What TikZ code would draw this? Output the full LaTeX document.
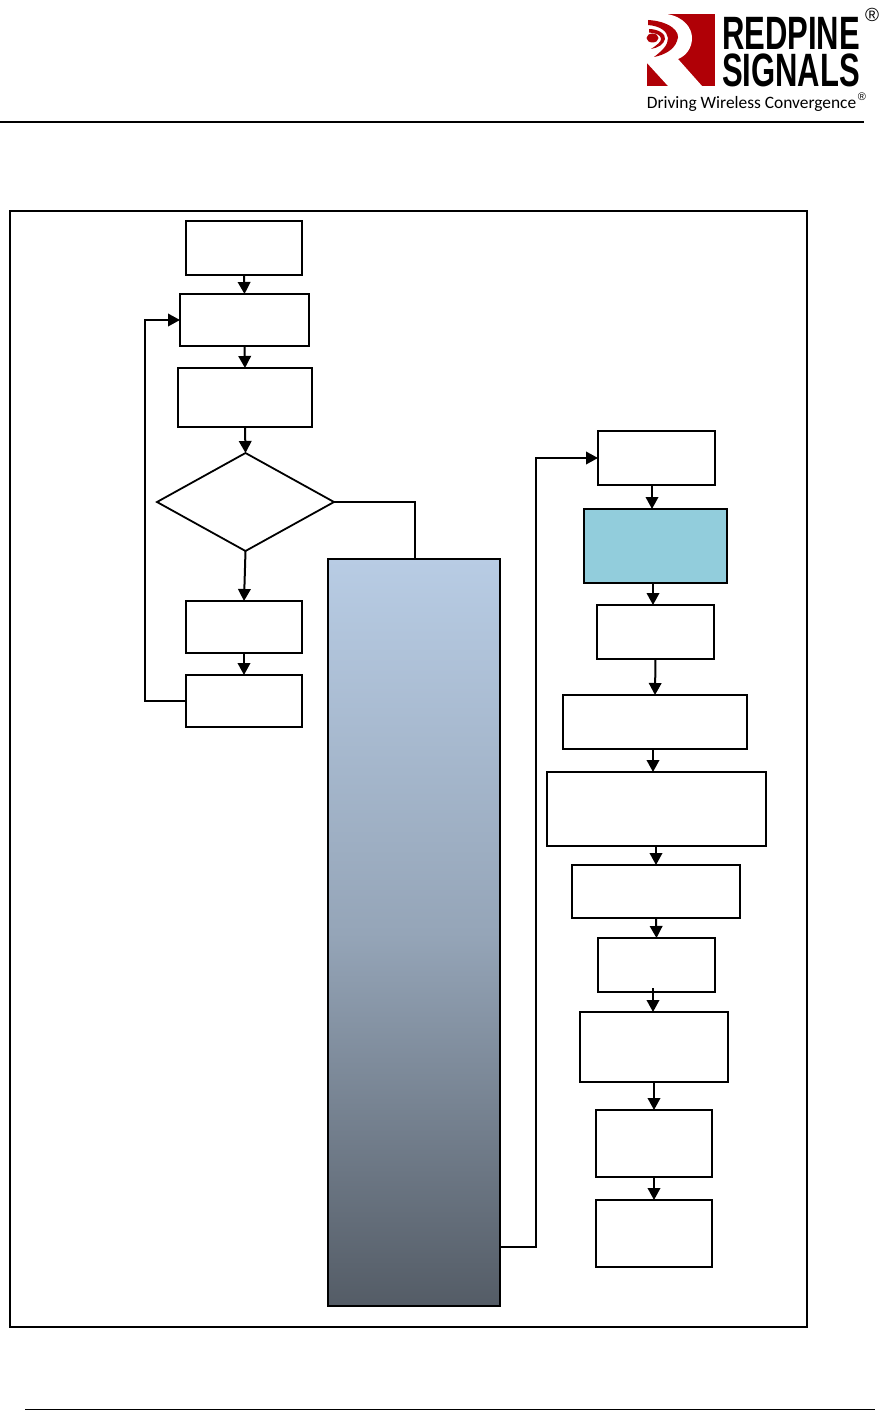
\documentclass[tikz,border=0pt]{standalone}
\usepackage{fontspec}
\setmainfont{Carlito}
\newfontfamily\logofont{Liberation Sans}
\usetikzlibrary{arrows.meta,shapes.geometric,calc}
\definecolor{redpine}{HTML}{B00006}
\definecolor{gradtop}{HTML}{B8CCE4}
\definecolor{gradmid}{HTML}{95A5B8}
\definecolor{gradbot}{HTML}{545C66}
\definecolor{teal}{HTML}{92CDDC}
\tikzset{
  x=1pt,y=-1pt,
  boxn/.style={draw=black,line width=1.8pt,rectangle,inner sep=0pt,outer sep=0pt,fill=white},
  conn/.style={draw=black,line width=2pt},
  arr/.style={conn,-{Triangle[length=12pt,width=12.5pt]}},
  rule/.style={draw=black,line width=2pt},
  logotxt/.style={inner sep=0pt,outer sep=0pt,font=\logofont\bfseries\fontsize{40}{40}\selectfont,anchor=center},
}
\newcommand{\bx}[6][]{\node[boxn,#1,minimum width=#4 pt-#3 pt,minimum height=#6 pt-#5 pt] (#2) at ({(#3+#4)/2},{(#5+#6)/2}) {};}
\begin{document}
\begin{tikzpicture}
\useasboundingbox (0,0) rectangle (880,1410);
\fill[white] (0,0) rectangle (880,1410);
% header / footer rules
\coordinate (hl) at (0,122.5); \coordinate (hr) at (864,122.5);
\draw[rule] (hl) -- (hr);
\coordinate (fl) at (25,1409.5); \coordinate (fr) at (875,1409.5);
\draw[rule] (fl) -- (fr);
% logo
\fill[redpine] (647,14) rectangle (715,86);
\fill[white] (647,14) -- (667,14) .. controls (684,17) and (692,28) .. (692,38) .. controls (692,48) and (686,56) .. (678,59) -- (702,86) -- (668,86) -- (647,63) -- cycle;
\fill[redpine] (648,20) .. controls (668,21) and (682,31) .. (677,41) .. controls (674,50) and (664,55) .. (654,57) .. controls (663,50) and (668,45) .. (668,38) .. controls (667,31) and (660,26) .. (648,25) -- cycle;
\fill[redpine] (649,29) .. controls (658,29) and (666,34) .. (665,39) .. controls (664,44) and (658,48) .. (651,49) .. controls (657,45) and (661,42) .. (661,39) .. controls (661,35) and (656,33) .. (649,32.5) -- cycle;
\fill[redpine] (652.5,38) ellipse (6 and 4.5);
\node[logotxt,xscale=0.775,yscale=1.17] (redp) at (791,33) {REDPINE};
\node[logotxt,xscale=0.775,yscale=1.17] (sigs) at (791,70.5) {SIGNALS};
\node[inner sep=0pt,font=\fontsize{17.4}{18}\selectfont,anchor=center] (tag) at (751.5,104) {Driving Wireless Convergence};
\node[inner sep=0pt,font=\logofont\fontsize{11}{11}\selectfont,anchor=center] (tagr) at (862,97) {®};
\node[inner sep=0pt,font=\logofont\fontsize{19}{19}\selectfont,anchor=center] (logor) at (872,15) {®};
% frame
\node[boxn,fill=none,minimum width=797pt,minimum height=1116pt] (frame) at (408.5,769) {};
% left column
\bx{b1}{186}{302}{221}{275}
\bx{b2}{180}{309}{294}{346}
\bx{b3}{178}{312}{368}{427}
\node[boxn,diamond,minimum width=177pt,minimum height=98pt,shape aspect=1.806] (dec) at (245.5,502) {};
\bx{b4}{186}{302}{601}{653}
\bx{b5}{186}{302}{675}{727}
% gradient block
\node[boxn,draw=black,top color=gradtop,bottom color=gradbot,middle color=gradmid,minimum width=172pt,minimum height=747pt] (big) at (414,932.5) {};
% right column
\bx{r1}{598}{715}{431}{485}
\bx[fill=teal]{r2}{584}{727}{509}{583}
\bx{r3}{597}{714}{605}{659}
\bx{r4}{563}{747}{695}{749}
\bx{r5}{547}{766}{772}{846}
\bx{r6}{572}{740}{865}{918}
\bx{r7}{598}{715}{938}{992}
\bx{r8}{580}{728}{1012}{1082}
\bx{r9}{596}{712}{1110}{1177}
\bx{r10}{596}{712}{1200}{1267}
% connectors
\draw[arr] (b1.south) -- (b2.north);
\draw[arr] (b2.south) -- (b3.north);
\draw[arr] (b3.south) -- (dec.north);
\draw[arr] (dec.south) -- (b4.north);
\draw[arr] (b4.south) -- (b5.north);
\coordinate (lpa) at (144.5,701);
\coordinate (lpb) at (144.5,320);
\draw[arr] (b5.west) -- (lpa) -- (lpb) -- (b2.west);
\coordinate (dtop) at (414.5,502);
\draw[conn] (dec.east) -- (dtop) -- (big.north -| dtop);
\coordinate (rpa) at (536,1246.5);
\coordinate (rpb) at (536,458);
\draw[arr] (big.east |- rpa) -- (rpa) -- (rpb) -- (r1.west);
\draw[arr] ([xshift=-4.5pt]r1.south) -- ([xshift=-3.5pt]r2.north);
\draw[arr] ([xshift=-2.5pt]r2.south) -- ([xshift=-2.5pt]r3.north);
\draw[arr] (r3.south) -- (r4.north);
\draw[arr] ([xshift=-2pt]r4.south) -- ([xshift=-3.5pt]r5.north);
\draw[arr] ([xshift=-.5pt]r5.south) -- (r6.north);
\draw[arr] (r6.south) -- (r7.north);
\draw[arr] ([xshift=-3.5pt,yshift=4pt]r7.south) -- ([xshift=-1pt]r8.north);
\draw[arr] (r8.south) -- (r9.north);
\draw[arr] (r9.south) -- (r10.north);
\end{tikzpicture}
\end{document}
